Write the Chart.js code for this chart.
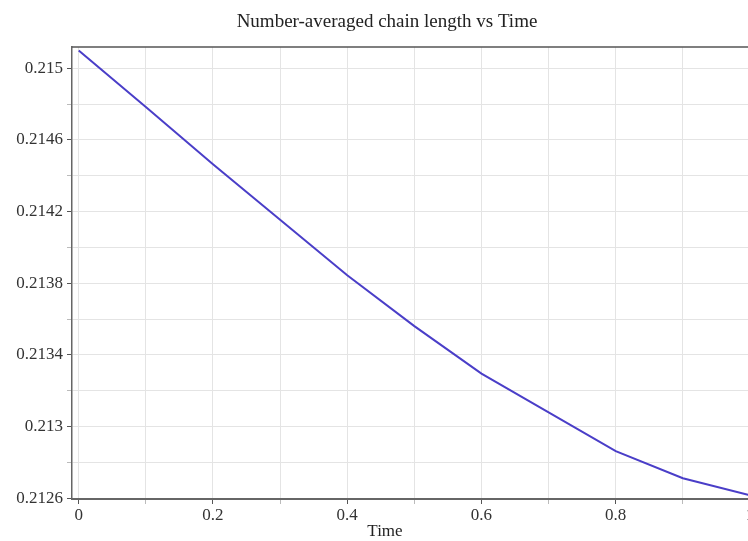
<!DOCTYPE html>
<html>
<head>
<meta charset="utf-8">
<script src="https://cdn.jsdelivr.net/npm/chart.js@4/dist/chart.umd.min.js"></script>
<style>
  html, body { margin: 0; padding: 0; background: #fff; overflow: hidden; }
  #wrap { width: 774px; height: 541px; }
</style>
</head>
<body>
<div id="wrap"><canvas id="myChart" width="774" height="541"></canvas></div>
<script>
var times = [0, 0.1, 0.2, 0.3, 0.4, 0.5, 0.6, 0.7, 0.8, 0.9, 1.0];
var chainLength = [0.215100, 0.214784, 0.214465, 0.214155, 0.213845, 0.213561, 0.213296, 0.213080, 0.212863, 0.212712, 0.212617];
var yTicks = [0.2126, 0.2128, 0.213, 0.2132, 0.2134, 0.2136, 0.2138, 0.214, 0.2142, 0.2144, 0.2146, 0.2148, 0.215];
var xTicks = [0, 0.1, 0.2, 0.3, 0.4, 0.5, 0.6, 0.7, 0.8, 0.9, 1.0];

var chartTitle = 'Number-averaged chain length vs Time';
var xTitle = 'Time';

var serif = 'Liberation Serif, DejaVu Serif, serif';

function isMajorY(v) { return Math.round((v - 0.2126) * 10000) % 4 === 0; }
function isMajorX(v) { return Math.round(v * 10) % 2 === 0; }

// top frame line, plus title and x caption centred on the whole figure (not the plot)
var frame = {
    id: 'frame',
    afterDraw: function(chart) {
        var a = chart.chartArea, c = chart.ctx;
        c.save();
        c.strokeStyle = '#555';
        c.lineWidth = 1.5;
        c.beginPath();
        c.moveTo(a.left, a.top);
        c.lineTo(a.right, a.top);
        c.stroke();
        c.fillStyle = '#222';
        c.textAlign = 'center';
        c.textBaseline = 'middle';
        c.font = '19px ' + serif;
        c.fillText(chartTitle, 387, 22);
        c.font = '17px ' + serif;
        c.fillText(xTitle, 385, 532);
        c.restore();
    }
};

var ctx = document.getElementById('myChart').getContext('2d');
var myChart = new Chart(ctx, {
    type: 'line',
    data: {
        datasets: [{
            label: 'Number-averaged chain length',
            data: times.map(function(t, i) { return {x: t, y: chainLength[i]}; }),
            borderColor: '#4a3ec8',
            borderWidth: 2,
            pointRadius: 0,
            tension: 0,
            fill: false
        }]
    },
    options: {
        responsive: false,
        animation: false,
        layout: { padding: { left: 0, right: 24, top: 47, bottom: 0 } },
        plugins: {
            legend: { display: false },
            tooltip: { enabled: false },
            title: { display: false }
        },
        scales: {
            x: {
                type: 'linear',
                min: -0.01,
                max: 1.0,
                afterBuildTicks: function(axis) {
                    axis.ticks = xTicks.map(function(v) { return {value: v}; });
                },
                afterFit: function(axis) { axis.height = 42; },
                ticks: {
                    autoSkip: false,
                    maxRotation: 0,
                    padding: 1,
                    color: '#333',
                    font: { family: serif, size: 17 },
                    callback: function(v) { return isMajorX(v) ? String(+v.toFixed(1)) : ''; }
                },
                grid: {
                    color: '#e4e4e4',
                    tickLength: 5,
                    tickColor: function(c) { return c.tick && isMajorX(c.tick.value) ? '#555' : '#bbb'; }
                },
                border: { color: '#666', width: 2 }
            },
            y: {
                min: 0.212596,
                max: 0.215119,
                afterBuildTicks: function(axis) {
                    axis.ticks = yTicks.map(function(v) { return {value: v}; });
                },
                afterFit: function(axis) { axis.width = 72; },
                ticks: {
                    autoSkip: false,
                    padding: 4,
                    color: '#333',
                    font: { family: serif, size: 17 },
                    callback: function(v) { return isMajorY(v) ? String(+v.toFixed(4)) : ''; }
                },
                grid: {
                    color: '#e4e4e4',
                    tickLength: 5,
                    tickColor: function(c) { return c.tick && isMajorY(c.tick.value) ? '#555' : '#bbb'; }
                },
                border: { color: '#666', width: 1.5 }
            }
        }
    },
    plugins: [frame]
});
</script>
</body>
</html>
